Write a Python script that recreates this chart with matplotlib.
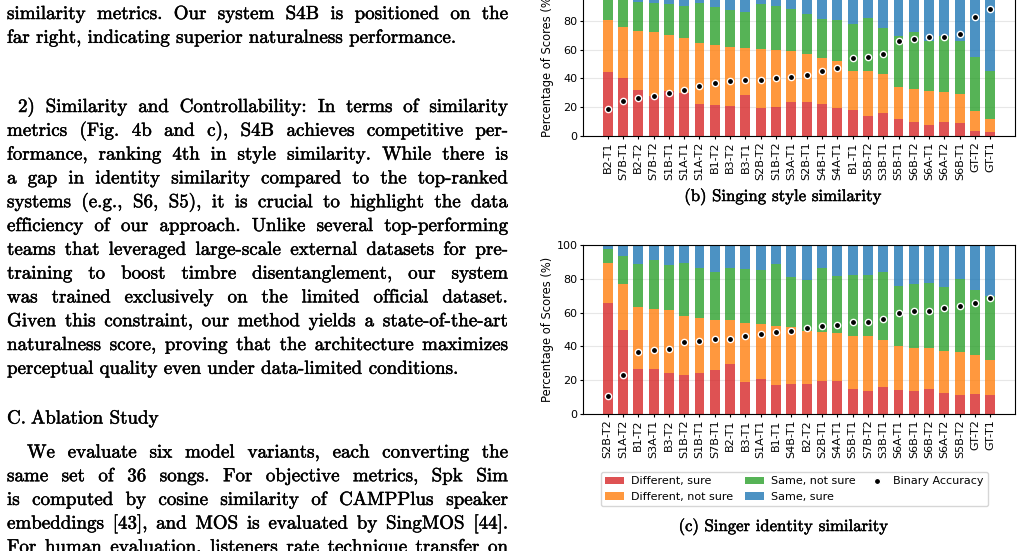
import matplotlib
matplotlib.use('Agg')
import matplotlib.pyplot as plt
import matplotlib.patheffects as pe
import numpy as np

W, H = 1026, 551

# (b) singing style similarity, % of scores per system
style_systems = ['B2-T1', 'S7B-T1', 'B2-T2', 'S7B-T2', 'S1B-T1', 'S1A-T1', 'S1A-T2', 'B1-T2',
                 'B3-T2', 'B3-T1', 'S2B-T2', 'S1B-T2', 'S3A-T1', 'S2B-T1', 'S4B-T1', 'S4A-T1',
                 'B1-T1', 'S5B-T2', 'S3B-T1', 'S5B-T1', 'S6B-T2', 'S6A-T1', 'S6A-T2', 'S6B-T1',
                 'GT-T2', 'GT-T1']
style_diff_sure = [44.6, 40.2, 32.1, 28.0, 31.4, 29.8, 22.2, 21.5, 20.8, 28.7, 19.2, 20.1, 23.8,
                   23.6, 22.2, 19.4, 18.0, 13.9, 16.0, 11.6, 9.7, 7.9, 9.7, 9.0, 3.7, 2.8]
style_diff_notsure = [35.9, 35.6, 41.0, 44.1, 38.9, 38.4, 42.5, 41.9, 40.9, 32.3, 41.1, 39.6, 35.4,
                      33.5, 32.1, 32.6, 27.3, 31.4, 27.0, 22.4, 22.9, 23.3, 20.8, 20.1, 13.6, 9.2]
style_same_notsure = [16.5, 20.2, 20.1, 20.2, 21.3, 22.2, 27.6, 26.3, 25.9, 25.2, 31.3, 30.7, 28.9,
                      27.5, 26.9, 28.7, 32.6, 36.8, 32.1, 35.4, 39.3, 34.9, 39.0, 37.0, 37.3, 33.1]
style_same_sure = [3.0, 4.0, 6.8, 7.7, 8.4, 9.6, 7.7, 10.3, 12.4, 13.8, 8.4, 9.6, 11.9,
                   15.4, 18.8, 19.3, 22.1, 17.9, 24.9, 30.6, 28.1, 33.9, 30.5, 33.9, 45.4, 54.9]
style_acc = [19.0, 24.5, 26.6, 27.7, 29.6, 31.7, 34.7, 36.8, 38.2, 38.6, 38.6, 40.0, 40.9,
             42.5, 45.3, 47.4, 54.1, 55.0, 56.9, 65.9, 67.1, 68.7, 68.9, 70.5, 82.3, 87.9]

# (c) singer identity similarity
ident_systems = ['S2B-T2', 'S1A-T2', 'B1-T2', 'S3A-T1', 'B3-T2', 'S1B-T2', 'S1B-T1', 'S7B-T1',
                 'B2-T1', 'B3-T1', 'S1A-T1', 'B1-T1', 'S4B-T1', 'B2-T2', 'S2B-T1', 'S4A-T1',
                 'S5B-T1', 'S7B-T2', 'S3B-T1', 'S6A-T1', 'S6B-T1', 'S6B-T2', 'S6A-T2', 'S5B-T2',
                 'GT-T2', 'GT-T1']
ident_diff_sure = [65.7, 49.8, 26.8, 26.8, 24.4, 23.2, 24.4, 26.2, 29.7, 18.7, 20.9, 17.3, 17.9,
                   17.9, 19.5, 19.3, 15.0, 13.6, 15.7, 14.4, 13.6, 14.6, 12.2, 11.4, 12.0, 11.4]
ident_diff_notsure = [23.7, 27.2, 36.8, 35.6, 37.4, 34.5, 32.5, 29.3, 25.8, 35.4, 32.4, 34.5, 33.3,
                      31.5, 28.9, 28.9, 30.9, 32.3, 28.2, 26.0, 25.6, 24.6, 25.2, 25.4, 23.2, 20.7]
ident_same_notsure = [8.4, 16.5, 25.0, 28.5, 26.4, 31.7, 29.5, 28.6, 30.9, 31.5, 32.1, 36.8, 29.9,
                      30.1, 38.0, 33.3, 36.2, 36.4, 40.2, 35.4, 37.8, 38.6, 38.0, 43.1, 38.4, 38.0]
ident_same_sure = [2.2, 6.5, 11.4, 9.1, 11.8, 10.6, 13.6, 15.9, 13.6, 14.4, 14.6, 11.4, 18.9,
                   20.5, 13.6, 18.5, 17.9, 17.7, 15.9, 24.2, 23.0, 22.2, 24.6, 20.1, 26.4, 29.9]
ident_acc = [10.6, 23.2, 36.6, 37.6, 38.6, 42.5, 43.3, 44.1, 44.3, 46.1, 47.2, 48.4, 49.2,
             50.8, 52.2, 52.4, 54.5, 54.5, 56.1, 59.6, 60.8, 61.0, 62.8, 63.8, 65.6, 68.5]

categories = ['Different, sure', 'Different, not sure', 'Same, not sure', 'Same, sure']
colors = ['tab:red', 'tab:orange', 'tab:green', 'tab:blue']

body_text = [
    ('similarity metrics. Our system S4B is positioned on the', True, 0),
    ('far right, indicating superior naturalness performance.', False, 0),
    ('2) Similarity and Controllability: In terms of similarity', True, 11),
    ('metrics (Fig. 4b and c), S4B achieves competitive per-', True, 0),
    ('formance, ranking 4th in style similarity. While there is', True, 0),
    ('a gap in identity similarity compared to the top-ranked', True, 0),
    ('systems (e.g., S6, S5), it is crucial to highlight the data', True, 0),
    ('efficiency of our approach. Unlike several top-performing', True, 0),
    ('teams that leveraged large-scale external datasets for pre-', True, 0),
    ('training to boost timbre disentanglement, our system', True, 0),
    ('was trained exclusively on the limited official dataset.', True, 0),
    ('Given this constraint, our method yields a state-of-the-art', True, 0),
    ('naturalness score, proving that the architecture maximizes', True, 0),
    ('perceptual quality even under data-limited conditions.', False, 0),
    ('C. Ablation Study', False, 0),
    ('We evaluate six model variants, each converting the', True, 20),
    ('same set of 36 songs. For objective metrics, Spk Sim', True, 0),
    ('is computed by cosine similarity of CAMPPlus speaker', True, 0),
    ('embeddings [43], and MOS is evaluated by SingMOS [44].', True, 0),
    ('For human evaluation, listeners rate technique transfer on', True, 0),
]
body_base = [19.0, 42.8, 112.0, 135.8, 159.6, 183.4, 207.2, 231.0, 254.8, 278.6, 302.4,
             326.2, 350.0, 373.8, 423.5, 457.5, 481.2, 504.9, 528.6, 552.3]

fig = plt.figure(figsize=(W / 100, H / 100), dpi=100)
renderer = fig.canvas.get_renderer()
serif = 'cmr10'
ink = [pe.withStroke(linewidth=0.35, foreground='black')]


def words_width(words, size):
    total = 0
    for w in words:
        t = fig.text(0, 0, w, fontsize=size, family=serif)
        total += t.get_window_extent(renderer).width
        t.remove()
    return total


def tex_space(size):
    return 0.333 * size * 100 / 72


def place(words, x0, yb, size, gap):
    objs = [fig.text(0, 1 - yb / H, w, fontsize=size, family=serif, va='baseline',
                     path_effects=ink) for w in words]
    ws = [o.get_window_extent(renderer).width for o in objs]
    x = x0
    for o, w in zip(objs, ws):
        o.set_x(x / W)
        x += w + gap
    return ws


# font size so that the last line of the first paragraph is about 450 px long
ref = body_text[1][0].split(' ')
body_size = 450 / (words_width(ref, 10) / 10 + (len(ref) - 1) * tex_space(1))
x_left, x_right = 7, 508

for (line, justify, indent), yb in zip(body_text, body_base):
    words = line.split(' ')
    x0 = x_left + indent
    if justify:
        gap = (x_right - x0 - words_width(words, body_size)) / (len(words) - 1)
    else:
        gap = tex_space(body_size)
    if line.startswith('C.'):
        place(words[:1], x0, yb, body_size, 0)
        place(words[1:], x0 + 24, yb, body_size, gap)
    else:
        place(words, x0, yb, body_size, gap)


def caption(s, xc, yb, width):
    words = s.split(' ')
    size = width / (words_width(words, 10) / 10 + (len(words) - 1) * tex_space(1))
    gap = tex_space(size)
    total = words_width(words, size) + gap * (len(words) - 1)
    place(words, xc - total / 2, yb, size, gap)


def stacked(ax, systems, parts, acc):
    x = np.arange(len(systems))
    bottom = np.zeros(len(systems))
    for vals, c, lab in zip(parts, colors, categories):
        ax.bar(x, vals, 0.65, bottom=bottom, color=c, alpha=0.8, label=lab, zorder=2)
        bottom += np.array(vals)
    ax.plot(x, acc, 'o', color='black', markersize=4.5, markeredgecolor='white',
            markeredgewidth=1, linestyle='none', label='Binary Accuracy', zorder=3)
    ax.set_ylim(0, 100)
    ax.set_yticks([0, 20, 40, 60, 80, 100])
    ax.set_xticks(x)
    ax.set_xticklabels(systems, rotation=90)
    ax.tick_params(labelsize=8, length=2.5, pad=1.5)
    ax.set_ylabel('Percentage of Scores (%)', fontsize=8.3, labelpad=2)
    ax.grid(axis='y', alpha=0.3)
    ax.set_axisbelow(True)


ax1 = fig.add_axes([583 / W, 1 - 136 / H, 432 / W, 144 / H])
stacked(ax1, style_systems,
        [style_diff_sure, style_diff_notsure, style_same_notsure, style_same_sure], style_acc)

ax2 = fig.add_axes([583 / W, 1 - 414 / H, 432 / W, 169 / H])
stacked(ax2, ident_systems,
        [ident_diff_sure, ident_diff_notsure, ident_same_notsure, ident_same_sure], ident_acc)
handles, labels = ax2.get_legend_handles_labels()
order = [1, 2, 3, 4, 0]
ax2.legend([handles[i] for i in order], [labels[i] for i in order],
           ncol=3, loc='upper center', bbox_to_anchor=(794.5 / W, 1 - 472 / H),
           bbox_transform=fig.transFigure, fontsize=8, borderaxespad=0,
           handlelength=1.7, handletextpad=0.6, columnspacing=1.1)

caption('(b) Singing style similarity', 783, 201, 197)
caption('(c) Singer identity similarity', 783.5, 531, 209)

fig.savefig('out.png', dpi=100)
